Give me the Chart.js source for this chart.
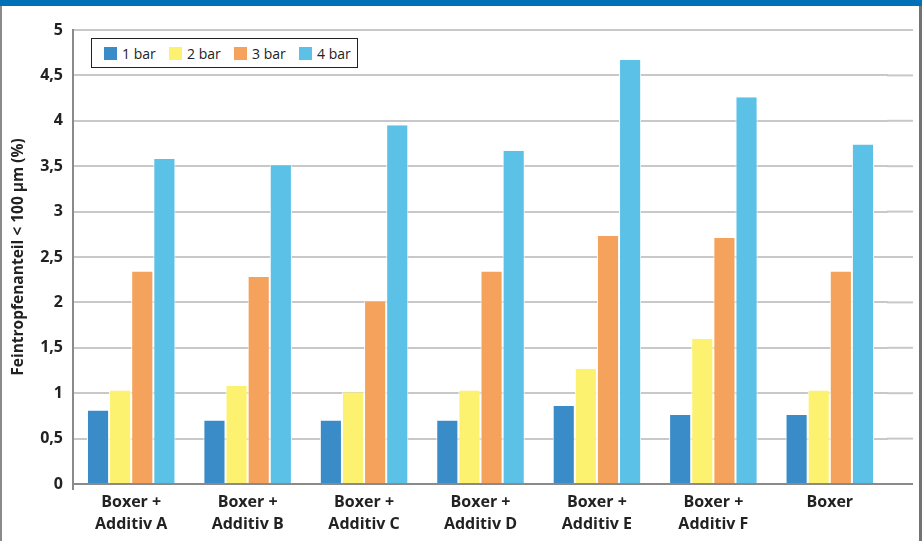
<!DOCTYPE html>
<html>
<head>
<meta charset="utf-8">
<script src="https://cdn.jsdelivr.net/npm/chart.js@4"></script>
<style>
  body { margin: 0; background: #fff; }
  #frame { position: relative; width: 922px; height: 541px; overflow: hidden; background: #fff; }
  #topbar { position: absolute; left: 0; top: 0; width: 922px; height: 6px; background: #0071b7; }
  #lborder { position: absolute; left: 0; top: 6px; width: 2px; height: 535px; background: #8a8a8a; }
  #rborder { position: absolute; right: 0; top: 6px; width: 3px; height: 535px; background: #737373; }
  #chart { position: absolute; left: 0; top: 0; }
  #legend {
    position: absolute; left: 91px; top: 38px; width: 265px; height: 28px;
    border: 1px solid #222; background: #fff; display: flex; align-items: center;
    font-family: "Open Sans", sans-serif; font-size: 14px; color: #222;
  }
  #legend .item { display: flex; align-items: center; margin-left: 12px; width: 53px; }
  #legend .sw { width: 13px; height: 13px; margin-right: 5px; }
</style>
</head>
<body>
<div id="frame">
  <canvas id="chart" width="922" height="541"></canvas>
  <div id="topbar"></div>
  <div id="lborder"></div>
  <div id="rborder"></div>
  <div id="legend"></div>
</div>
<script>
// categories and series values
const categories = [
  ['Boxer +', 'Additiv A'],
  ['Boxer +', 'Additiv B'],
  ['Boxer +', 'Additiv C'],
  ['Boxer +', 'Additiv D'],
  ['Boxer +', 'Additiv E'],
  ['Boxer +', 'Additiv F'],
  'Boxer'
];
const seriesNames = ['1 bar', '2 bar', '3 bar', '4 bar'];
const bar1 = [0.81, 0.70, 0.70, 0.70, 0.86, 0.76, 0.76];
const bar2 = [1.03, 1.08, 1.01, 1.03, 1.27, 1.60, 1.03];
const bar3 = [2.34, 2.28, 2.01, 2.34, 2.73, 2.71, 2.34];
const bar4 = [3.58, 3.51, 3.95, 3.67, 4.67, 4.26, 3.74];
const yTicks = [0, 0.5, 1, 1.5, 2, 2.5, 3, 3.5, 4, 4.5, 5];
const colors = ['#3a8cc9', '#fdf26f', '#f5a35c', '#5bc1e7'];

const seriesValues = [bar1, bar2, bar3, bar4];

// gridlines and x axis run on past the last group to the right edge
const gridRight = 913;
const extendGrid = {
  id: 'extendGrid',
  beforeDatasetsDraw(chart) {
    const { ctx, chartArea, scales } = chart;
    ctx.save();
    ctx.lineWidth = 2;
    scales.y.ticks.forEach(t => {
      const y = scales.y.getPixelForValue(t.value);
      ctx.strokeStyle = t.value === 0 ? '#8a8a8a' : '#c8c8c8';
      ctx.beginPath();
      ctx.moveTo(chartArea.right - 1, y);
      ctx.lineTo(gridRight, y);
      ctx.stroke();
    });
    // small stub of the y axis below zero
    ctx.strokeStyle = '#8a8a8a';
    ctx.beginPath();
    ctx.moveTo(chartArea.left, chartArea.bottom);
    ctx.lineTo(chartArea.left, chartArea.bottom + 6);
    ctx.stroke();
    ctx.restore();
  }
};

// html legend
const legendEl = document.getElementById('legend');
seriesNames.forEach((name, i) => {
  const item = document.createElement('div');
  item.className = 'item';
  item.innerHTML = '<span class="sw" style="background:' + colors[i] + '"></span>' + name;
  legendEl.appendChild(item);
});

const ctx = document.getElementById('chart').getContext('2d');
new Chart(ctx, {
  type: 'bar',
  data: {
    labels: categories,
    datasets: seriesNames.map((name, i) => ({
      label: name,
      data: seriesValues[i],
      backgroundColor: colors[i],
      borderColor: '#ffffff',
      borderWidth: { left: 1, right: 1, top: 0, bottom: 0 },
      borderSkipped: false,
      barPercentage: 1.0,
      categoryPercentage: 0.76
    }))
  },
  plugins: [extendGrid],
  options: {
    responsive: false,
    animation: false,
    layout: { padding: { top: 30, right: 34, left: 0, bottom: 0 } },
    plugins: {
      legend: { display: false },
      tooltip: { enabled: false }
    },
    scales: {
      x: {
        grid: { display: false, drawTicks: false },
        border: { display: true, color: '#8a8a8a', width: 2 },
        ticks: {
          color: '#222',
          padding: 7,
          font: { family: 'Open Sans', size: 16, weight: 'bold', lineHeight: 1.38 },
          maxRotation: 0
        },
        afterFit: (scale) => { scale.height = 57; }
      },
      y: {
        min: 0,
        max: 5,
        afterBuildTicks: (scale) => { scale.ticks = yTicks.map(v => ({ value: v })); },
        grid: { color: '#c8c8c8', lineWidth: 2, drawTicks: false },
        border: { display: true, color: '#8a8a8a', width: 2 },
        ticks: {
          color: '#222',
          padding: 10,
          font: { family: 'Open Sans', size: 16, weight: 'bold' },
          callback: (v) => String(v).replace('.', ',')
        },
        title: {
          display: true,
          text: 'Feintropfenanteil < 100 µm (%)',
          color: '#222',
          font: { family: 'Open Sans', size: 15.5, weight: 'bold' },
          padding: { top: 9, bottom: 0 }
        },
        afterFit: (scale) => { scale.width = 73; }
      }
    }
  }
});
</script>
</body>
</html>
